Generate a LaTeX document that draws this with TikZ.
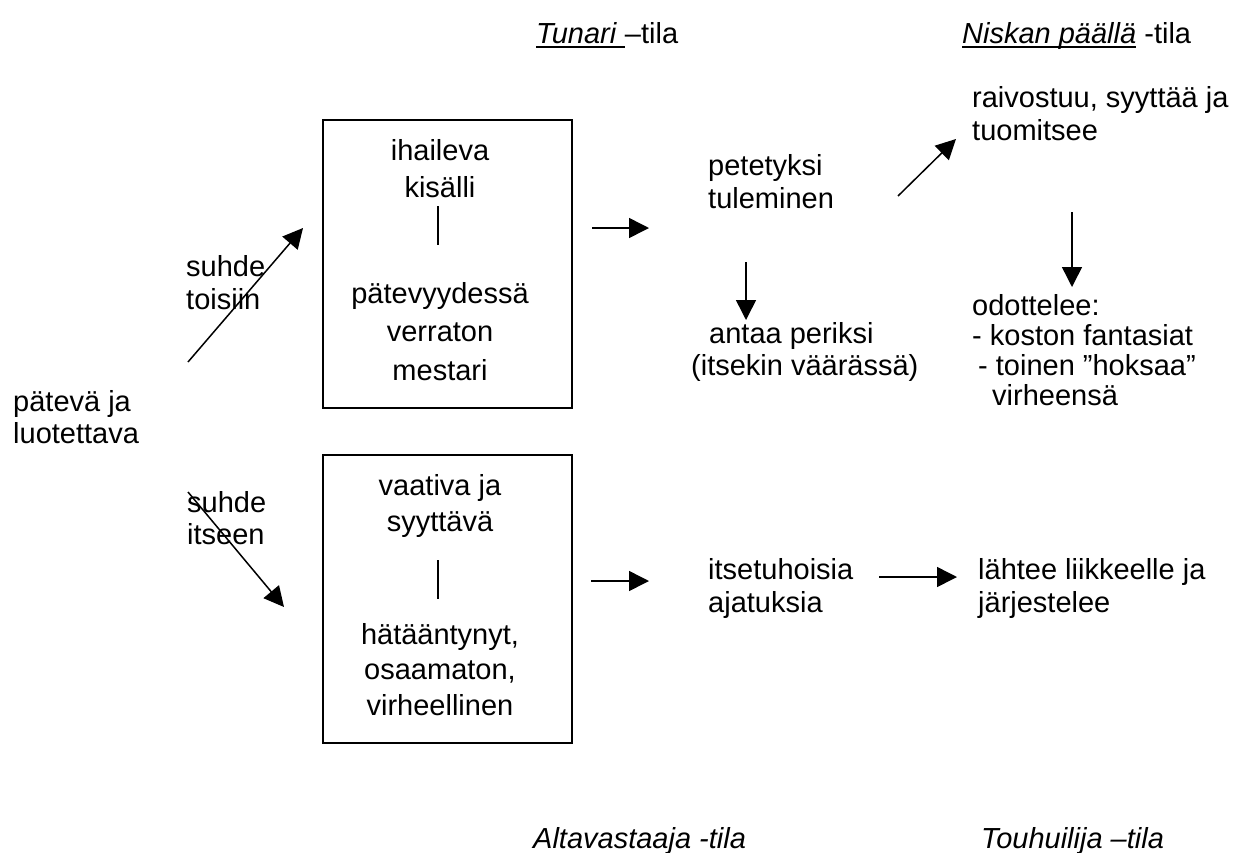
\documentclass[tikz,border=0pt]{standalone}
\usepackage{fontspec}
\setmainfont{Liberation Sans}
\usetikzlibrary{arrows.meta}
\newcommand\blkl[2]{\vtop{\baselineskip=#1\relax\lineskiplimit=-100pt\lineskip=0pt\halign{##\hfil\cr#2\crcr}}}
\newcommand\blkc[2]{\vtop{\baselineskip=#1\relax\lineskiplimit=-100pt\lineskip=0pt\halign{\hfil##\hfil\cr#2\crcr}}}
\newcommand\ulx[1]{\setbox0\hbox{#1}\rlap{\vrule width \wd0 height -3pt depth 5pt}\box0}
\begin{document}
\begin{tikzpicture}[x=1pt,y=-1pt,
  txt/.style={inner sep=0pt, font=\fontsize{29}{33}\selectfont},
  arr/.style={line width=1.5pt, -{Triangle[length=20pt,width=20pt]}},
  boxst/.style={draw, line width=1.8pt, inner sep=0pt, minimum width=249pt, minimum height=288pt},
  sep/.style={line width=1.5pt}]
\useasboundingbox (0,0) rectangle (1234,852);

% headers
\node[txt, anchor=base west] (tunari) at (536,43) {\ulx{\textit{Tunari}\ }–tila};
\node[txt, anchor=base west] (niskan) at (962,43) {\ulx{\textit{Niskan päällä}}\ -tila};
\node[txt, anchor=base west] (alta) at (533,848) {\textit{Altavastaaja -tila}};
\node[txt, anchor=base west] (touhu) at (981,848) {\textit{Touhuilija –tila}};

% left
\node[txt, anchor=base west] (pateva) at (13,411) {\blkl{32pt}{pätevä ja\cr luotettava}};
\node[txt, anchor=base west] (suhde1) at (186,276) {\blkl{33pt}{suhde\cr toisiin}};
\node[txt, anchor=base west] (suhde2) at (187,512) {\blkl{32pt}{suhde\cr itseen}};

% boxes
\node[boxst] (box1) at (447.5,264) {};
\node[boxst] (box2) at (447.5,599) {};
\node[txt, anchor=base] (b1a) at (440,160) {\blkc{37pt}{ihaileva\cr kisälli}};
\node[txt, anchor=base] (b1b) at (440,303) {\blkc{38.5pt}{pätevyydessä\cr verraton\cr mestari}};
\node[txt, anchor=base] (b2a) at (440,495) {\blkc{36pt}{vaativa ja\cr syyttävä}};
\node[txt, anchor=base] (b2b) at (440,644) {\blkc{35.5pt}{hätääntynyt,\cr osaamaton,\cr virheellinen}};
\coordinate (s1t) at (438,206); \coordinate (s1b) at (438,245);
\coordinate (s2t) at (438,560); \coordinate (s2b) at (438,599);
\draw[sep] (s1t) -- (s1b);
\draw[sep] (s2t) -- (s2b);

% right texts
\node[txt, anchor=base west] (pete) at (708,175) {\blkl{33pt}{petetyksi\cr tuleminen}};
\node[txt, anchor=base west] (antaa) at (691,343) {\blkl{32pt}{\hspace{18pt}antaa periksi\cr (itsekin väärässä)}};
\node[txt, anchor=base west] (raivo) at (972,107) {\blkl{33pt}{raivostuu, syyttää ja\cr tuomitsee}};
\node[txt, anchor=base west] (odot) at (972,315) {\blkl{30pt}{odottelee:\cr - koston fantasiat\cr \hspace{6pt}- toinen ”hoksaa”\cr \hspace{20pt}virheensä}};
\node[txt, anchor=base west] (itse) at (708,579) {\blkl{33pt}{itsetuhoisia\cr ajatuksia}};
\node[txt, anchor=base west] (lahtee) at (978,579) {\blkl{33pt}{lähtee liikkeelle ja\cr järjestelee}};

% arrows
\coordinate (a1s) at (188,362); \coordinate (a1e) at (303,228);
\coordinate (a2s) at (188,492); \coordinate (a2e) at (284,607);
\coordinate (a3s) at (592,228); \coordinate (a3e) at (649,228);
\coordinate (a4s) at (746,262); \coordinate (a4e) at (746,320);
\coordinate (a5s) at (898,196); \coordinate (a5e) at (956,139);
\coordinate (a6s) at (1072,212); \coordinate (a6e) at (1072,287);
\coordinate (a7s) at (591,581); \coordinate (a7e) at (649,581);
\coordinate (a8s) at (879,577); \coordinate (a8e) at (957,577);
\draw[arr] (a1s) -- (a1e);
\draw[arr] (a2s) -- (a2e);
\draw[arr] (a3s) -- (a3e);
\draw[arr] (a4s) -- (a4e);
\draw[arr] (a5s) -- (a5e);
\draw[arr] (a6s) -- (a6e);
\draw[arr] (a7s) -- (a7e);
\draw[arr] (a8s) -- (a8e);
\end{tikzpicture}
\end{document}
